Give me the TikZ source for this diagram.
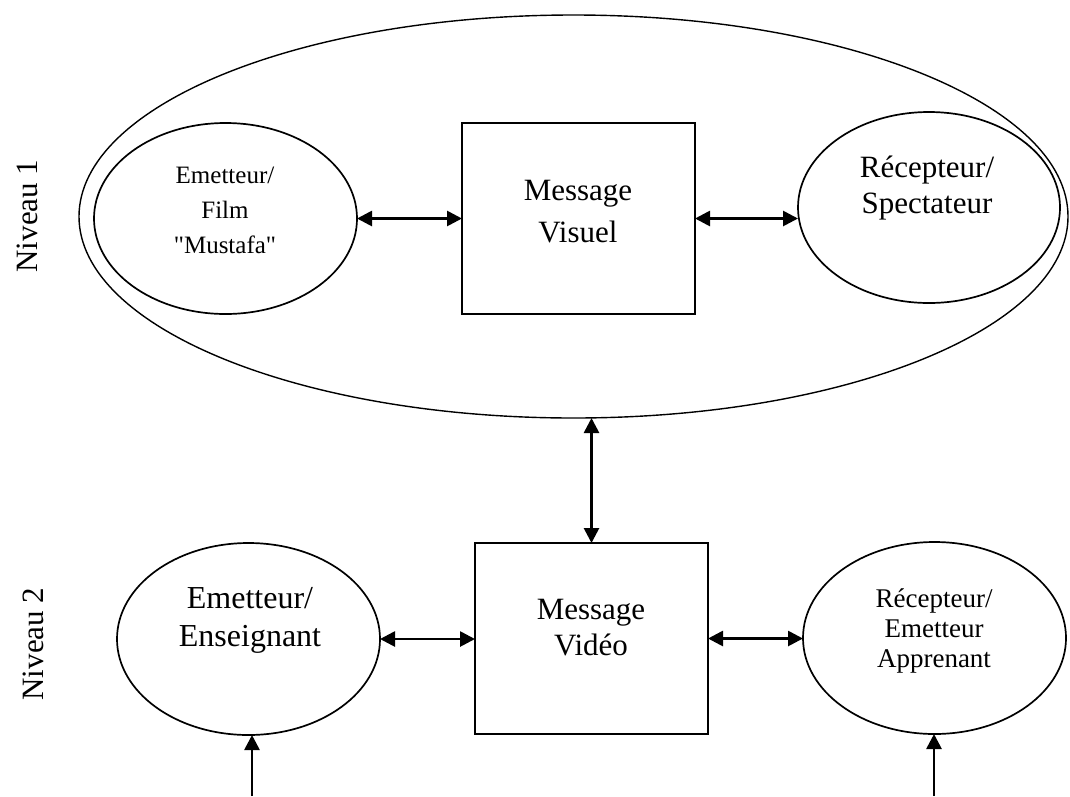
\documentclass[tikz,border=0pt]{standalone}
\usepackage{fontspec}
\setmainfont{Liberation Serif}[Ligatures=TeXOff]
\usetikzlibrary{shapes.geometric,arrows.meta}
\begin{document}
\begin{tikzpicture}[x=1pt,y=-1pt,
  shp/.style={draw,line width=1.7pt,inner sep=0pt,outer sep=0pt},
  ell/.style={shp,ellipse},
  box/.style={shp,rectangle},
  lbl/.style={align=center,inner sep=0pt},
  conn/.style={line width=2.7pt,{Triangle[length=15pt,width=15pt]}-{Triangle[length=15pt,width=15pt]}},
  upar/.style={line width=2.7pt,-{Triangle[length=15pt,width=15pt]}}]
\useasboundingbox (0,0) rectangle (1070,796);
% shapes
\node[ell, line width=1.4pt, minimum width=989pt, minimum height=403pt] (outer) at (573.5,216.5) {};
\node[ell, minimum width=263pt, minimum height=191pt] (e1) at (225.5,218.5) {};
\node[box, minimum width=233pt, minimum height=191pt] (m1) at (578.5,218.5) {};
\node[ell, minimum width=262pt, minimum height=191pt] (r1) at (929,207.5) {};
\node[box, minimum width=233pt, minimum height=191pt] (m2) at (591.5,638.5) {};
\node[ell, minimum width=263pt, minimum height=192pt] (e2) at (248.5,639) {};
\node[ell, minimum width=263pt, minimum height=192pt] (r2) at (934.5,638) {};
% texts
\node[lbl, font=\fontsize{25}{35}\selectfont] (t1) at (225,210) {Emetteur/\\Film\\"Mustafa"};
\node[lbl, font=\fontsize{31}{42}\selectfont] (t2) at (578,212) {Message\\Visuel};
\node[lbl, font=\fontsize{31}{36}\selectfont] (t3) at (927,188) {Récepteur/\\Spectateur};
\node[lbl, font=\fontsize{31}{36}\selectfont] (t4) at (591,628) {Message\\Vidéo};
\node[lbl, font=\fontsize{32}{38}\selectfont] (t5) at (250,620) {Emetteur/\\Enseignant};
\node[lbl, font=\fontsize{27}{30}\selectfont] (t6) at (934,631) {Récepteur/\\Emetteur\\Apprenant};
\node[font=\fontsize{31}{36}\selectfont, rotate=90, anchor=base, inner sep=0pt] (n1) at (37,216) {Niveau 1};
\node[font=\fontsize{31}{36}\selectfont, rotate=90, anchor=base, inner sep=0pt] (n2) at (43,644) {Niveau 2};
% connectors
\draw[conn] (e1.east) -- (m1.west);
\draw[conn] (m1.east) -- (m1.east -| r1.west);
\draw[conn] (e2.east) -- (e2.east -| m2.west);
\draw[conn] (m2.east) -- (m2.east -| r2.west);
\draw[conn] (m2.north) -- (m2.north |- outer.south);
\coordinate (b1) at (252,796);
\coordinate (b2) at (934,796);
\draw[upar] (b1) -- (b1 |- e2.south);
\draw[upar] (b2) -- (b2 |- r2.south);
\end{tikzpicture}
\end{document}
